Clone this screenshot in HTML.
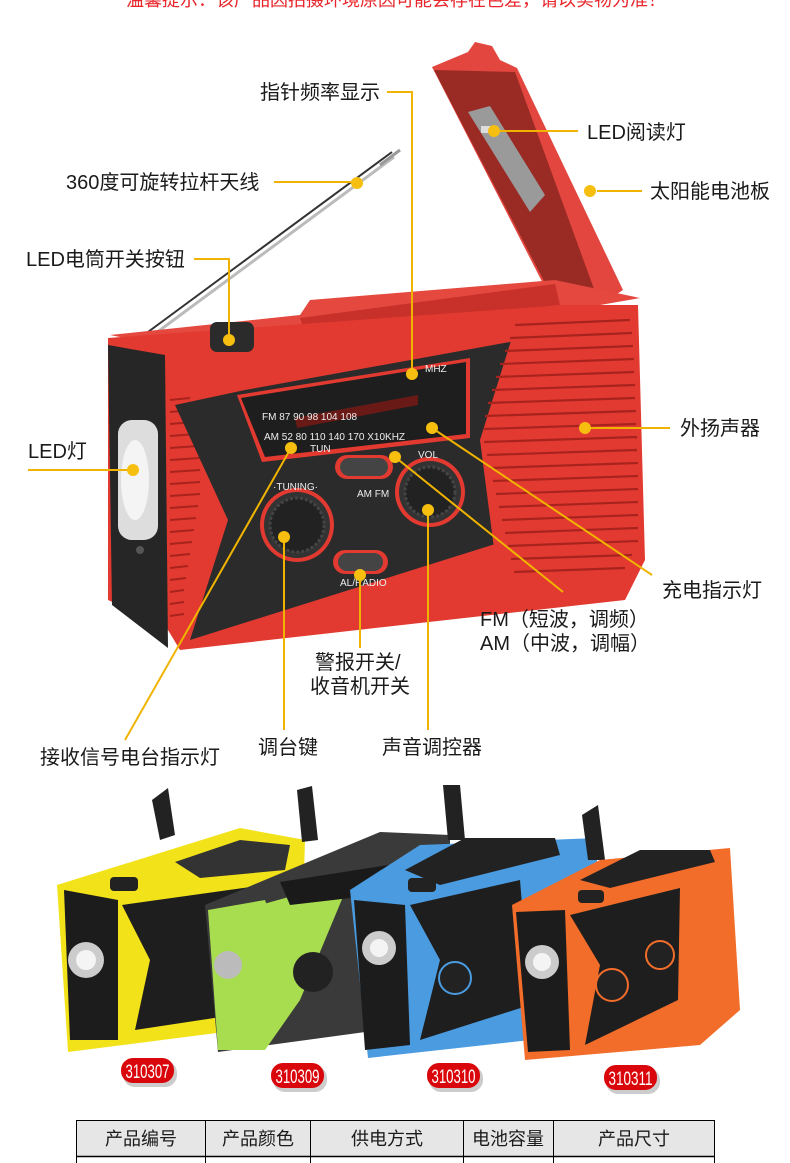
<!DOCTYPE html>
<html><head><meta charset="utf-8"><style>
html,body{margin:0;padding:0;background:#fff;}
body{width:790px;height:1163px;overflow:hidden;position:relative;font-family:"Liberation Sans","Noto Sans CJK SC",sans-serif;}
svg{position:absolute;left:0;top:0;}
.t{font-family:"Liberation Sans","Noto Sans CJK SC",sans-serif;font-size:20px;fill:#1a1a1a;}
.s{font-family:"Liberation Sans",sans-serif;font-size:10px;fill:#eee;}
</style></head><body>
<svg width="790" height="1163" viewBox="0 0 790 1163">
<text x="396" y="6" text-anchor="middle" font-size="18" fill="#e8262c" style="font-family:'Liberation Sans','Noto Sans CJK SC',sans-serif">温馨提示：该产品因拍摄环境原因可能会存在色差，请以实物为准！</text>

<!-- antenna -->
<line x1="148" y1="332" x2="392" y2="152" stroke="#333" stroke-width="2"/>
<line x1="152" y1="336" x2="394" y2="157" stroke="#bbb" stroke-width="3"/>
<line x1="380" y1="165" x2="400" y2="150" stroke="#999" stroke-width="3"/>

<!-- lid -->
<polygon points="432,67 468,52 475,42 492,46 500,60 517,68 623,290 595,308 553,303" fill="#e2463f"/>
<polygon points="434,70 515,72 598,300 555,302" fill="#9a2a24"/>
<polygon points="468,112 490,106 545,195 530,212" fill="#9a9a9a"/>
<rect x="481" y="126" width="10" height="7" fill="#ddd"/>

<!-- top of body -->
<polygon points="110,335 300,315 310,300 555,280 640,298 560,312 160,345" fill="#e4483f"/>
<polygon points="300,318 555,284 560,305 305,332" fill="#c8302a"/>
<!-- main body -->
<polygon points="108,338 565,305 638,305 645,560 625,600 180,650 165,625 108,600" fill="#e23a30"/>
<!-- left face -->
<polygon points="108,345 165,355 168,648 112,605" fill="#262626"/>
<rect x="118" y="420" width="40" height="120" rx="14" fill="#ddd"/>
<ellipse cx="135" cy="480" rx="14" ry="40" fill="#f4f4f4"/>
<circle cx="140" cy="550" r="4" fill="#555"/>
<g stroke="#a8231d" stroke-width="2">
<line x1="170" y1="400" x2="190" y2="398"/><line x1="170" y1="412" x2="192" y2="410"/><line x1="170" y1="424" x2="194" y2="422"/><line x1="170" y1="436" x2="196" y2="434"/><line x1="170" y1="448" x2="198" y2="446"/><line x1="170" y1="460" x2="200" y2="458"/><line x1="170" y1="472" x2="200" y2="470"/><line x1="170" y1="484" x2="200" y2="482"/><line x1="170" y1="496" x2="200" y2="494"/><line x1="170" y1="508" x2="198" y2="506"/><line x1="170" y1="520" x2="196" y2="518"/><line x1="170" y1="532" x2="194" y2="530"/><line x1="170" y1="544" x2="192" y2="542"/><line x1="170" y1="556" x2="190" y2="554"/><line x1="170" y1="568" x2="188" y2="566"/><line x1="170" y1="580" x2="186" y2="578"/><line x1="170" y1="592" x2="184" y2="590"/><line x1="170" y1="604" x2="184" y2="602"/><line x1="170" y1="616" x2="184" y2="614"/>
</g>
<!-- center black panel -->
<polygon points="175,405 245,390 510,342 530,340 480,440 508,540 190,640 228,520" fill="#2b2b2b"/>
<polygon points="237,395 470,358 470,438 262,462" fill="#e23a30"/>
<polygon points="241,398 466,362 466,434 265,457" fill="#1e1e1e"/>
<polygon points="295,418 418,395 418,405 297,428" fill="#6a1a16"/>
<text x="262" y="420" class="s" font-size="12">FM  87 90   98   104 108</text>
<text x="264" y="440" class="s" font-size="12">AM  52 80   110 140 170 X10KHZ</text>
<text x="425" y="372" class="s">MHZ</text>
<text x="310" y="452" class="s" font-size="11">TUN</text>
<rect x="335" y="455" width="58" height="24" rx="12" fill="#e23a30"/><rect x="340" y="458" width="48" height="18" rx="9" fill="#444"/>
<text x="357" y="497" class="s" font-size="8">AM  FM</text>
<circle cx="297" cy="525" r="37" fill="#e23a30"/><circle cx="297" cy="525" r="33" fill="#333"/><circle cx="297" cy="525" r="27" fill="#222" stroke="#444" stroke-width="3" stroke-dasharray="3 2"/>
<circle cx="430" cy="492" r="35" fill="#e23a30"/><circle cx="430" cy="492" r="31" fill="#333"/><circle cx="430" cy="492" r="25" fill="#222" stroke="#444" stroke-width="3" stroke-dasharray="3 2"/>
<rect x="333" y="550" width="55" height="24" rx="12" fill="#e23a30"/><rect x="338" y="553" width="45" height="18" rx="9" fill="#444"/>
<text x="340" y="586" class="s" font-size="8">AL/RADIO</text>
<text x="273" y="490" class="s" font-size="9">·TUNING·</text>
<text x="418" y="458" class="s" font-size="9">VOL</text>
<polygon points="520,312 632,308 640,555 615,595 500,595 480,440" fill="#e23a30"/>
<g stroke="#a8231d" stroke-width="2.2">
<line x1="515" y1="325" x2="630" y2="320"/><line x1="510" y1="338" x2="632" y2="333"/><line x1="505" y1="351" x2="633" y2="346"/><line x1="500" y1="364" x2="634" y2="359"/><line x1="496" y1="377" x2="634" y2="372"/><line x1="492" y1="390" x2="635" y2="385"/><line x1="488" y1="403" x2="635" y2="398"/><line x1="485" y1="416" x2="636" y2="411"/><line x1="484" y1="429" x2="636" y2="424"/><line x1="484" y1="442" x2="637" y2="437"/><line x1="487" y1="455" x2="637" y2="450"/><line x1="490" y1="468" x2="638" y2="463"/><line x1="493" y1="481" x2="638" y2="476"/><line x1="496" y1="494" x2="638" y2="489"/><line x1="499" y1="507" x2="638" y2="502"/><line x1="502" y1="520" x2="638" y2="515"/><line x1="505" y1="533" x2="638" y2="528"/><line x1="508" y1="546" x2="638" y2="541"/><line x1="511" y1="559" x2="632" y2="555"/><line x1="514" y1="572" x2="625" y2="568"/>
</g>
<rect x="210" y="322" width="44" height="30" rx="7" fill="#2b2b2b"/>

<!-- leaders -->
<g stroke="#f0b400" stroke-width="2" fill="none">
<polyline points="387,92 412,92 412,372"/>
<line x1="496" y1="131" x2="578" y2="131"/>
<line x1="274" y1="182" x2="356" y2="182"/>
<line x1="597" y1="191" x2="642" y2="191"/>
<polyline points="194,259 229,259 229,338"/>
<line x1="28" y1="470" x2="132" y2="470"/>
<line x1="586" y1="428" x2="670" y2="428"/>
<line x1="432" y1="428" x2="652" y2="575"/>
<line x1="395" y1="457" x2="563" y2="592"/>
<line x1="360" y1="576" x2="360" y2="648"/>
<line x1="284" y1="537" x2="284" y2="730"/>
<line x1="428" y1="510" x2="428" y2="730"/>
<line x1="291" y1="448" x2="125" y2="740"/>
</g>
<g fill="#f6bf10">
<circle cx="412" cy="374" r="6"/><circle cx="494" cy="131" r="6"/><circle cx="357" cy="183" r="6"/><circle cx="590" cy="191" r="6"/><circle cx="229" cy="340" r="6"/><circle cx="133" cy="470" r="6"/><circle cx="585" cy="428" r="6"/><circle cx="432" cy="428" r="6"/><circle cx="395" cy="457" r="6"/><circle cx="360" cy="575" r="6"/><circle cx="284" cy="537" r="6"/><circle cx="428" cy="510" r="6"/><circle cx="291" cy="448" r="6"/>
</g>
<text x="260" y="99" class="t">指针频率显示</text>
<text x="587" y="139" class="t">LED阅读灯</text>
<text x="66" y="189" class="t">360度可旋转拉杆天线</text>
<text x="650" y="198" class="t">太阳能电池板</text>
<text x="26" y="266" class="t">LED电筒开关按钮</text>
<text x="28" y="458" class="t">LED灯</text>
<text x="680" y="435" class="t">外扬声器</text>
<text x="662" y="597" class="t">充电指示灯</text>
<text x="480" y="626" class="t">FM（短波，调频）</text>
<text x="480" y="650" class="t">AM（中波，调幅）</text>
<text x="315" y="669" class="t">警报开关/</text>
<text x="310" y="693" class="t">收音机开关</text>
<text x="258" y="754" class="t">调台键</text>
<text x="382" y="754" class="t">声音调控器</text>
<text x="40" y="764" class="t">接收信号电台指示灯</text>

<!-- bottom radios -->
<polygon points="152,800 168,788 175,835 160,840" fill="#222"/>
<polygon points="57,885 240,828 305,840 300,1010 240,1030 68,1052" fill="#f2e21a"/>
<polygon points="175,862 240,840 290,845 285,870 200,878" fill="#333"/>
<polygon points="64,890 118,900 118,1040 70,1040" fill="#1c1c1c"/>
<circle cx="86" cy="960" r="18" fill="#ccc"/><circle cx="86" cy="960" r="10" fill="#f4f4f4"/>
<polygon points="122,905 300,880 300,1005 135,1030 150,960" fill="#1e1e1e"/>
<rect x="110" y="877" width="28" height="14" rx="4" fill="#222"/>
<polygon points="297,790 312,786 318,840 302,842" fill="#222"/>
<polygon points="205,905 380,832 450,835 450,1010 380,1030 218,1052" fill="#3a3a3a"/>
<polygon points="208,910 265,900 300,1000 265,1050 218,1050" fill="#a8dd50"/>
<polygon points="260,905 350,880 300,1000" fill="#a8dd50"/>
<circle cx="228" cy="965" r="14" fill="#bbb"/>
<circle cx="313" cy="972" r="20" fill="#222"/>
<polygon points="280,882 420,860 420,890 290,905" fill="#1a1a1a"/>
<polygon points="443,785 460,785 465,840 448,840" fill="#222"/>
<polygon points="350,890 420,845 597,838 597,1010 530,1040 368,1058" fill="#4a9be0"/>
<polygon points="405,870 465,838 555,838 560,855 440,885" fill="#222"/>
<polygon points="354,900 405,905 410,1045 365,1050" fill="#1c1c1c"/>
<circle cx="379" cy="948" r="17" fill="#ccc"/><circle cx="379" cy="948" r="9" fill="#f4f4f4"/>
<polygon points="410,905 520,880 530,1005 420,1040 440,960" fill="#1e1e1e"/>
<circle cx="455" cy="978" r="16" fill="#222" stroke="#4a9be0" stroke-width="2"/>
<rect x="408" y="878" width="28" height="14" rx="4" fill="#222"/>
<polygon points="582,815 598,805 605,860 588,860" fill="#222"/>
<polygon points="512,905 600,860 730,848 740,1010 700,1045 525,1060" fill="#f36d2a"/>
<polygon points="580,880 640,850 710,850 715,862 610,888" fill="#222"/>
<polygon points="516,912 565,910 570,1050 528,1052" fill="#1c1c1c"/>
<circle cx="542" cy="962" r="17" fill="#ccc"/><circle cx="542" cy="962" r="9" fill="#f4f4f4"/>
<polygon points="570,915 680,888 678,1000 585,1045 600,965" fill="#1e1e1e"/>
<circle cx="612" cy="985" r="16" fill="#222" stroke="#f36d2a" stroke-width="2"/>
<circle cx="660" cy="955" r="14" fill="#222" stroke="#f36d2a" stroke-width="2"/>
<rect x="578" y="890" width="26" height="13" rx="4" fill="#222"/>

<g fill="#999" opacity="0.5"><rect x="123" y="1061" width="54" height="26" rx="12"/><rect x="273" y="1066" width="54" height="26" rx="12"/><rect x="429" y="1066" width="54" height="26" rx="12"/><rect x="606" y="1068" width="54" height="26" rx="12"/></g>
<g fill="#d9060b"><rect x="121" y="1058" width="53" height="25" rx="12"/><rect x="271" y="1063" width="53" height="25" rx="12"/><rect x="427" y="1063" width="53" height="25" rx="12"/><rect x="604" y="1065" width="53" height="25" rx="12"/></g>
<g fill="#fff" font-size="19" text-anchor="middle" style="font-family:'Liberation Sans Narrow','Liberation Sans',sans-serif">
<text x="147.5" y="1078" textLength="44" lengthAdjust="spacingAndGlyphs">310307</text>
<text x="297.5" y="1083" textLength="44" lengthAdjust="spacingAndGlyphs">310309</text>
<text x="453.5" y="1083" textLength="44" lengthAdjust="spacingAndGlyphs">310310</text>
<text x="630.5" y="1085" textLength="44" lengthAdjust="spacingAndGlyphs">310311</text>
</g>

<rect x="76.5" y="1120.5" width="638" height="36" fill="#e6e6e6" stroke="#000" stroke-width="1"/>
<line x1="76" y1="1156.5" x2="715" y2="1156.5" stroke="#000" stroke-width="1.5"/>
<g stroke="#000" stroke-width="1"><line x1="76.5" y1="1156" x2="76.5" y2="1163"/><line x1="714.5" y1="1156" x2="714.5" y2="1163"/>
<line x1="205.5" y1="1120" x2="205.5" y2="1163"/><line x1="310.5" y1="1120" x2="310.5" y2="1163"/><line x1="463.5" y1="1120" x2="463.5" y2="1163"/><line x1="553.5" y1="1120" x2="553.5" y2="1163"/></g>
<g text-anchor="middle">
<text x="141" y="1145" class="t" style="font-size:18px">产品编号</text>
<text x="258" y="1145" class="t" style="font-size:18px">产品颜色</text>
<text x="387" y="1145" class="t" style="font-size:18px">供电方式</text>
<text x="508" y="1145" class="t" style="font-size:18px">电池容量</text>
<text x="634" y="1145" class="t" style="font-size:18px">产品尺寸</text>
</g>
</svg>
</body></html>
